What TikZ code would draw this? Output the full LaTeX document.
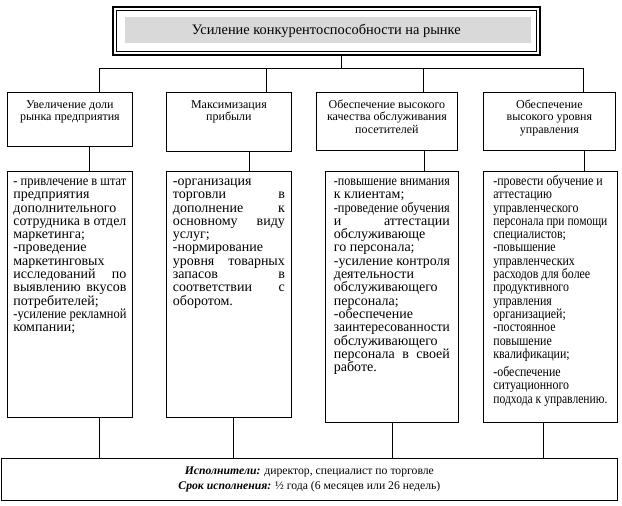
\documentclass[tikz,border=0pt]{standalone}
\usepackage{fontspec}
\usepackage{graphicx}
\setmainfont{Liberation Serif}
\newfontfamily\narrowfont[FakeStretch=0.85]{Liberation Serif}
\lineskiplimit=-20pt

\newcommand{\topbox}[3]{\parbox[c][#1][t]{#2}{#3}}
\newcommand{\topgap}[1]{\leavevmode\rule{0pt}{#1}}
% one line of a task list: stretched (\jl) or left (\rl); squeezed if too wide
\newcommand{\fitline}[1]{\sbox0{#1}\ifdim\wd0>\linewidth
  \hbox{\resizebox{\linewidth}{\height}{#1}}\else\hbox{#1}\fi}
\newcommand{\jl}[1]{\sbox0{#1}\ifdim\wd0>\linewidth
  \fitline{#1}\else\hbox to\linewidth{#1}\fi}
\newcommand{\rl}[1]{\fitline{#1}}

\tikzset{
  frame/.style={draw, anchor=north west, inner sep=0pt},
  goal/.style={frame, font=\fontsize{12}{12.5}\selectfont},
  task/.style={frame, font=\fontsize{14}{13.3}\selectfont},
}

\begin{document}
\begin{tikzpicture}[x=1pt, y=-1pt, line width=.8pt]
  \useasboundingbox (0,0) rectangle (622,506);

  % title
  \fill[gray!30] (125,17) rectangle (531,43);
  \node[frame, line width=1.6pt, minimum width=427pt, minimum height=48pt,
        font=\fontsize{14.4}{16}\selectfont] (top) at (112,6)
        {Усиление конкурентоспособности на рынке};
  \draw ([shift={(4,4)}]top.north west) rectangle ([shift={(-4,-4)}]top.south east);

  % goals
  \node[goal, minimum width=125pt, minimum height=54pt] (goal1) at (7,92)
    {\topbox{54pt}{121pt}{\centering\topgap{16pt}Увеличение доли\\рынка предприятия}};
  \node[goal, minimum width=125pt, minimum height=59pt] (goal2) at (166,92)
    {\topbox{59pt}{121pt}{\centering\topgap{16pt}Максимизация\\прибыли}};
  \node[goal, minimum width=141pt, minimum height=58pt] (goal3) at (316,92)
    {\topbox{58pt}{137pt}{\centering\topgap{16pt}Обеспечение высокого\\качества обслуживания\\посетителей}};
  \node[goal, minimum width=132pt, minimum height=58pt] (goal4) at (483,92)
    {\topbox{58pt}{128pt}{\centering\topgap{16pt}Обеспечение\\высокого уровня\\управления}};

  % tasks
  \node[task, minimum width=125pt, minimum height=246pt] (task1) at (7,171)
    {\topbox{246pt}{113pt}{%
      \jl{\topgap{14pt}- привлечение в штат}
      \rl{предприятия}
      \rl{дополнительного}
      \jl{сотрудника в отдел}
      \rl{маркетинга;}
      \rl{-проведение}
      \rl{маркетинговых}
      \jl{исследований по}
      \jl{выявлению вкусов}
      \rl{потребителей;}
      \jl{-усиление рекламной}
      \rl{компании;}}};
  \node[task, minimum width=125pt, minimum height=246pt] (task2) at (166,171)
    {\topbox{246pt}{112pt}{%
      \rl{\topgap{14pt}-организация}
      \jl{торговли в}
      \jl{дополнение к}
      \jl{основному виду}
      \rl{услуг;}
      \rl{-нормирование}
      \jl{уровня товарных}
      \jl{запасов в}
      \jl{соответствии с}
      \rl{оборотом.}}};
  \node[task, minimum width=133pt, minimum height=251pt] (task3) at (325,171)
    {\topbox{251pt}{116pt}{%
      \jl{\topgap{14pt}-повышение внимания}
      \rl{к клиентам;}
      \jl{-проведение обучения}
      \jl{и аттестации}
      \rl{обслуживающе}
      \rl{го персонала;}
      \jl{-усиление контроля}
      \rl{деятельности}
      \rl{обслуживающего}
      \rl{персонала;}
      \rl{-обеспечение}
      \rl{заинтересованности}
      \rl{обслуживающего}
      \jl{персонала в своей}
      \rl{работе.}}};
  \node[task, minimum width=134pt, minimum height=251pt] (task4) at (483,171)
    {\topbox{251pt}{114pt}{\narrowfont
      \rl{\topgap{14pt}-провести обучение и}
      \rl{аттестацию}
      \rl{управленческого}
      \rl{персонала при помощи}
      \rl{специалистов;}
      \rl{-повышение}
      \rl{управленческих}
      \rl{расходов для более}
      \rl{продуктивного}
      \rl{управления}
      \rl{организацией;}
      \rl{-постоянное}
      \rl{повышение}
      \rl{квалификации;}
      \vspace{5pt}
      \rl{-обеспечение}
      \rl{ситуационного}
      \rl{подхода к управлению.}}};

  % executors
  \node[frame, minimum width=616pt, minimum height=42pt, align=center,
        font=\fontsize{11.7}{15}\selectfont] (team) at (1,458)
    {\textbf{\textit{Исполнители:}} директор, специалист по торговле\\
     \textbf{\textit{Срок исполнения:}} ½ года (6 месяцев или 26 недель)};

  % connectors
  \coordinate (bus) at (341,68);
  \coordinate (b1) at (99,68);  \coordinate (b2) at (266,68);
  \coordinate (b3) at (423,68); \coordinate (b4) at (583,68);
  \draw (top.south -| bus) -- (bus);
  \draw (b1) -- (b4);
  \foreach \i in {1,...,4}
    \draw (b\i) -- (goal\i.north -| b\i);
  \foreach \i/\x in {1/89, 2/249, 3/424, 4/584}
    \draw (goal\i.south -| \x,0) -- (task\i.north -| \x,0);
  \foreach \i/\x in {1/99, 2/233, 3/392, 4/543}
    \draw (task\i.south -| \x,0) -- (team.north -| \x,0);
\end{tikzpicture}
\end{document}
